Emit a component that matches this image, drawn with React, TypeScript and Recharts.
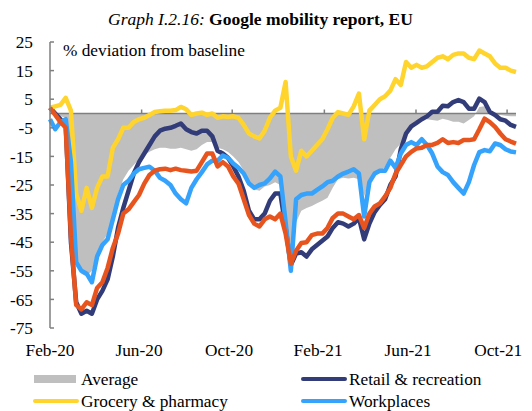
import { ComposedChart, Area, Line, XAxis, YAxis, ReferenceLine } from 'recharts';

// weekly readings, Feb-2020 .. mid-Oct-2021 (% deviation from baseline)
const average = [
  0, 0, -1, -1.5, -30, -52, -56, -57, -55, -49, -45, -42, -36, -28, -23, -20, -18, -16, -14.5, -13.4,
  -12.5, -12, -12, -12.3, -12.3, -12, -12.5, -13, -12.5, -11, -10, -10, -12, -12.5, -13.5, -15, -17, -20, -23.5, -26.5,
  -27, -25.5, -25, -24, -25, -36, -48, -38, -34, -33, -32.3, -31.4, -30.5, -29.5, -26, -23, -22.5, -22.7, -22.5, -23,
  -29, -23.5, -22, -20.5, -18.5, -15.5, -12.5, -10.5, -7, -4.5, -3.5, -1.5, -2, -2.3, -2.5, -1.8, -2.3, -2.9, -2.9, -3.5,
  -2.3, -1, 2.3, 2.5, 0, -0.5, -0.5, -0.8, -1, -1,
];
const retail = [
  2, 0, -2, -4, -45, -66, -70, -69, -70, -65, -62, -58, -50, -40, -33, -27, -21, -17, -14, -11,
  -8, -6, -5.3, -5, -4.3, -3.5, -5.5, -6.5, -7, -6, -6, -8, -13, -14, -15.5, -18.5, -22, -27, -34, -37,
  -37, -35, -30.5, -28, -28, -40, -53, -49, -48.5, -50, -47.5, -46, -44.5, -43, -40, -38, -38.5, -39.5, -38.5, -36.5,
  -44, -38.5, -34.5, -32, -30, -25, -22, -12.5, -7, -4.5, -3.3, -2, -1, 0.6, 0.6, 2.7, 2.5, 4, 4.7, 4,
  1.7, 1.7, 5.2, 4, 0.5, -0.5, -2, -2.5, -4, -4.7,
];
const grocery = [
  2, 2.5, 3, 5.5, 1, -28, -34, -26, -33, -26, -22, -22, -12, -9, -5, -5, -3, -2, -1.5, -0.5,
  0.5, 0.8, 1, 1, 1.2, 2.3, 1.5, -0.5, 0, 0.3, -0.5, 0, -1.5, -1, -1.2, -1, -1.5, -4, -7, -8,
  -8.7, -6, -1.5, 1, 2, 11, -15, -20, -13, -15, -13, -11, -9, -5.5, -1.5, 0.5, 0, -0.5, 2.5, 7,
  -9, 1, 3, 5, 6, 8, 12, 10, 18, 16, 17, 16, 16.5, 18, 19.5, 20, 19, 20.5, 21, 21,
  19.5, 19, 22, 21, 20, 17.5, 16, 16, 15, 14.5,
];
const workplaces = [
  -2, -5.5, -3, -2, -17, -52, -55, -56, -59, -50, -46, -44, -37, -30, -25, -23.5, -21, -19.5, -19, -18.6,
  -20, -22.5, -23.5, -25, -28, -30, -31.4, -26, -23, -20.5, -17.8, -16.5, -16.5, -14.7, -15.5, -17.5, -19, -21, -24.5, -26,
  -25, -24.4, -22.7, -20.3, -22, -38, -55, -30, -28.5, -28, -28, -26.7, -25.5, -24, -23.5, -22, -21, -20.3, -19.5, -21,
  -36, -24, -21, -20, -20, -16.5, -19, -14, -11, -10, -11, -9, -11, -14, -18.5, -20.5, -21.5, -24, -26, -28,
  -24, -18, -13.5, -12.8, -13.2, -10.5, -11, -12.5, -13.3, -13.6,
];
// orange series has no legend entry in the source
const transit = [
  2, -0.5, -3, -5, -43, -67, -68.5, -66, -67, -61, -59, -54, -47, -42, -35, -33.5, -31, -28.5, -24.5, -21.5,
  -20, -19.5, -19.3, -19.8, -19.3, -19.8, -20, -20.3, -20, -17, -14, -14, -18.5, -17, -18.5, -22, -24.5, -30, -35.5, -38.5,
  -39.5, -37, -36, -37, -35, -42, -52.5, -48, -45.3, -45, -42.5, -42, -42, -40, -36.5, -35, -35, -36, -37, -35.5,
  -40, -35, -32.5, -31.4, -29, -26, -21, -18, -15, -13.4, -12.2, -12, -11, -11, -10.3, -9, -10.3, -10, -10.3, -9.3,
  -9.3, -9, -5.5, -1.8, -3, -4.7, -7, -9, -9.8, -10.5,
];

const tickLabels = ['Feb-20', 'Jun-20', 'Oct-20', 'Feb-21', 'Jun-21', 'Oct-21'];
const labelWeeks = [0, 17, 34.2, 51.2, 68.4, 85.6];
const tickMarkWeeks = [17.5, 34.8, 52.4, 69.9, 87.3];
const yTicks = [25, 15, 5, -5, -15, -25, -35, -45, -55, -65, -75];

const data = average.map((v, i) => ({
  week: i,
  average: v,
  retail: retail[i],
  grocery: grocery[i],
  workplaces: workplaces[i],
  transit: transit[i],
}));

const legendItems = [
  { name: 'Average', color: '#BFBFBF', kind: 'area' },
  { name: 'Retail & recreation', color: '#323C78', kind: 'line' },
  { name: 'Grocery & pharmacy', color: '#FFD42C', kind: 'line' },
  { name: 'Workplaces', color: '#35A2FC', kind: 'line' },
];

const font = 'Liberation Serif, Times New Roman, serif';
const axisGrey = '#7f7f7f';
const lineWidth = 4.5;

export default function App() {
  return (
    <div style={{ position: 'absolute', left: 0, top: 0, width: 532, height: 411, background: '#fff' }}>
      <ComposedChart width={532} height={411} data={data} margin={{ top: 42, right: 16, bottom: 53, left: 0 }}>
        <XAxis
          dataKey="week"
          type="number"
          domain={[0, 89]}
          ticks={labelWeeks}
          interval={0}
          tickFormatter={(_v, idx) => tickLabels[idx]}
          axisLine={false}
          tickLine={false}
          tickSize={0}
          tickMargin={16}
          height={30}
          tick={{ fill: '#000', fontSize: 17.3, fontFamily: font }}
        />
        <YAxis
          domain={[-75, 25]}
          ticks={yTicks}
          interval={0}
          width={50}
          axisLine={{ stroke: axisGrey, strokeWidth: 1.5 }}
          tickLine={{ stroke: axisGrey, strokeWidth: 1.5 }}
          tickSize={-4}
          tickMargin={21}
          tick={{ fill: '#000', fontSize: 17.3, fontFamily: font }}
        />
        <Area
          type="linear"
          dataKey="average"
          baseValue={0}
          stroke="none"
          fill="#BFBFBF"
          fillOpacity={1}
          isAnimationActive={false}
        />
        <ReferenceLine y={0} stroke={axisGrey} strokeWidth={1.5} />
        {tickMarkWeeks.map((w) => (
          <ReferenceLine
            key={w}
            segment={[{ x: w, y: 0 }, { x: w, y: 1.4 }]}
            stroke={axisGrey}
            strokeWidth={1.5}
          />
        ))}
        <Line type="linear" dataKey="retail" stroke="#323C78" strokeWidth={lineWidth} dot={false} strokeLinejoin="round" isAnimationActive={false} />
        <Line type="linear" dataKey="grocery" stroke="#FFD42C" strokeWidth={lineWidth} dot={false} strokeLinejoin="round" isAnimationActive={false} />
        <Line type="linear" dataKey="workplaces" stroke="#35A2FC" strokeWidth={lineWidth} dot={false} strokeLinejoin="round" isAnimationActive={false} />
        <Line type="linear" dataKey="transit" stroke="#E8541E" strokeWidth={lineWidth} dot={false} strokeLinejoin="round" isAnimationActive={false} />
      </ComposedChart>

      <svg width={532} height={411} style={{ position: 'absolute', left: 0, top: 0, pointerEvents: 'none' }}>
        <text x={108} y={25} fontFamily={font} fontSize={17.5} fill="#000">
          <tspan fontStyle="italic">Graph I.2.16: </tspan>
          <tspan fontWeight="bold">Google mobility report, EU</tspan>
        </text>
        <text x={63} y={56} fontFamily={font} fontSize={17.3} fill="#000">% deviation from baseline</text>
        {legendItems.map((item, i) => {
          const x = i % 2 === 0 ? 34 : 302;
          const y = i < 2 ? 379 : 401;
          return (
            <g key={item.name}>
              {item.kind === 'area' ? (
                <rect x={x} y={y - 4} width={42} height={8} fill={item.color} />
              ) : (
                <line x1={x + 1} y1={y} x2={x + 43} y2={y} stroke={item.color} strokeWidth={4} strokeLinecap="round" />
              )}
              <text x={x + 47} y={y + 5.5} fontFamily={font} fontSize={17.3} fill="#000">{item.name}</text>
            </g>
          );
        })}
      </svg>
    </div>
  );
}
